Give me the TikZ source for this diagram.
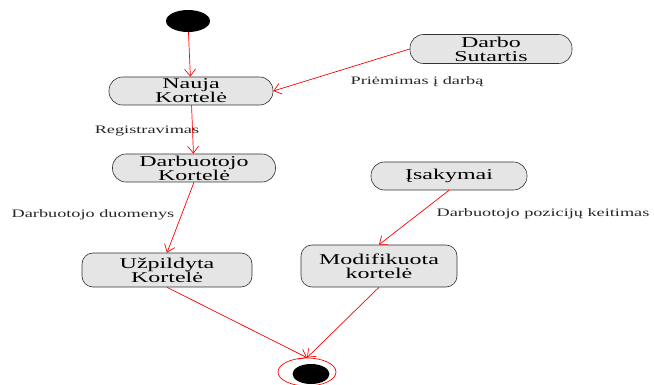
\documentclass[tikz,border=0pt]{standalone}
\usepackage{fontspec}
\setmainfont{Liberation Serif}[FakeStretch=1.6]
\usetikzlibrary{arrows.meta,shapes.geometric}
\begin{document}
\begin{tikzpicture}[x=1pt,y=-1pt,
  state/.style={draw=black!80, line width=0.6pt, fill=black!10, align=center,
    inner sep=0pt, font=\fontsize{15}{14}\selectfont},
  stadium/.style={state, rounded corners=13.5pt},
  box/.style={state, rounded corners=11pt},
  flow/.style={draw=red, line width=0.7pt, -{Straight Barb[length=7pt,width=11pt]}},
  lbl/.style={text=black!85, inner sep=0pt, font=\fontsize{11.4}{13}\selectfont},
  dot/.style={ellipse, fill=black, inner sep=0pt}]
\useasboundingbox (0,0) rectangle (654,385);

% initial and final states
\node[dot, minimum width=44pt, minimum height=22pt] (start) at (188,21) {};
\node[ellipse, draw=red, line width=0.7pt, minimum width=58pt, minimum height=28pt, inner sep=0pt] (endo) at (307,372) {};
\node[dot, minimum width=37pt, minimum height=20pt] (endi) at (311,374) {};

% activity states
\node[stadium, minimum width=164pt, minimum height=28pt] (nauja) at (191,91) {Nauja\\Kortelė};
\node[stadium, minimum width=162pt, minimum height=29pt] (darbo) at (491,49) {Darbo\\Sutartis};
\node[stadium, minimum width=163pt, minimum height=28pt] (darbk) at (194,168) {Darbuotojo\\Kortelė};
\node[box, minimum width=170pt, minimum height=34pt] (uzp) at (167,270) {Užpildyta\\Kortelė};
\node[stadium, minimum width=156pt, minimum height=28pt] (isak) at (449,176) {Įsakymai};
\node[box, minimum width=156pt, minimum height=42pt] (modif) at (379,266) {Modifikuota\\kortelė};

% transitions
\draw[flow] (start) -- (nauja);
\draw[flow] (darbo.west) -- (nauja.east);
\draw[flow] (nauja) -- (darbk);
\draw[flow] (darbk.south) -- (uzp.north);
\draw[flow] (isak.south) -- (modif.north);
\draw[flow] (uzp.south) -- (endo.north);
\draw[flow] (modif.south) -- (endo.north);

% transition labels
\node[lbl] (l1) at (417,82) {Priėmimas į darbą};
\node[lbl] (l2) at (147,131) {Registravimas};
\node[lbl] (l3) at (93,215) {Darbuotojo duomenys};
\node[lbl] (l4) at (543,214) {Darbuotojo pozicijų keitimas};
\end{tikzpicture}
\end{document}
